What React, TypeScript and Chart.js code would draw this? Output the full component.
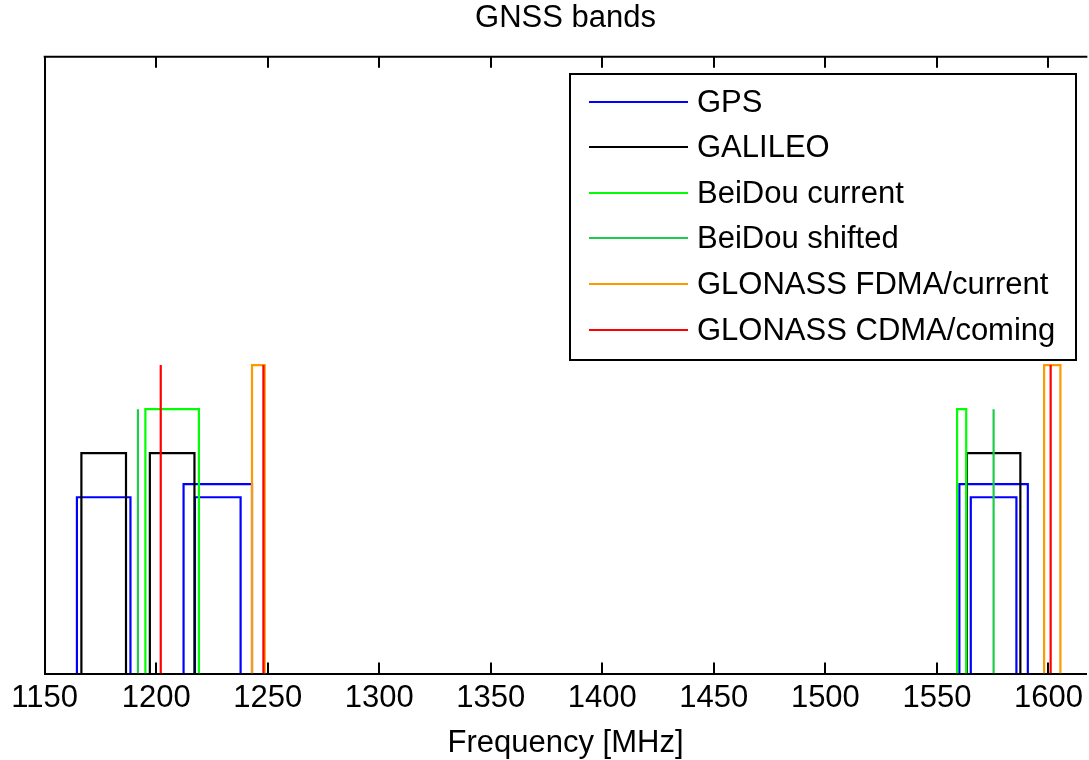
import React, { useEffect, useRef } from 'react';
import { Chart, registerables } from 'chart.js';

Chart.register(...registerables);

// ---- axis ----
const X_TICKS = [1150, 1200, 1250, 1300, 1350, 1400, 1450, 1500, 1550, 1600];
const X_MIN = 1150;
const X_MAX = 1617;
const Y_MIN = 0;
const Y_MAX = 1.4;

// ---- series labels / colours ----
const SERIES_LABELS = ['GPS', 'GALILEO', 'BeiDou current', 'BeiDou shifted', 'GLONASS FDMA/current', 'GLONASS CDMA/coming'];
const SERIES_COLORS = ['#0000ff', '#000000', '#00ff00', '#1ecc4b', '#ff9900', '#ff0000'];

// ---- GPS bands (MHz) ----
const GPS_LOW = [1164.45, 1212.255, 1217.37, 1560.075, 1565.19];
const GPS_HIGH = [1188.45, 1242.945, 1237.83, 1590.765, 1585.65];
const GPS_LEVEL = [0.4, 0.43, 0.4, 0.43, 0.4];

// ---- Galileo bands ----
const GAL_LOW = [1166.45, 1197.14, 1563.42];
const GAL_HIGH = [1186.45, 1217.14, 1587.42];
const GAL_LEVEL = [0.5, 0.5, 0.5];

// ---- BeiDou current bands ----
const BDS_LOW = [1195.14, 1559.052];
const BDS_HIGH = [1219.14, 1563.144];
const BDS_LEVEL = [0.6, 0.6];

// ---- BeiDou shifted (centre lines) ----
const BDS_SHIFT_CENTER = [1191.795, 1575.42];
const BDS_SHIFT_LEVEL = [0.6, 0.6];

// ---- GLONASS FDMA bands ----
const GLO_FDMA_LOW = [1242.9375, 1598.0625];
const GLO_FDMA_HIGH = [1248.625, 1605.375];
const GLO_FDMA_LEVEL = [0.7, 0.7];

// ---- GLONASS CDMA (centre lines) ----
const GLO_CDMA_CENTER = [1202.025, 1248.06, 1600.995];
const GLO_CDMA_LEVEL = [0.7, 0.7, 0.7];

const FONT_FAMILY = '"Liberation Sans", Arial, sans-serif';

function rectPoints(lows: number[], highs: number[], levels: number[]) {
  const pts: any[] = [];
  lows.forEach((lo, i) => {
    const hi = highs[i];
    const h = levels[i];
    pts.push({ x: lo, y: 0 }, { x: lo, y: h }, { x: hi, y: h }, { x: hi, y: 0 }, { x: hi, y: null });
  });
  return pts;
}

function linePoints(centers: number[], levels: number[]) {
  const pts: any[] = [];
  centers.forEach((c, i) => {
    pts.push({ x: c, y: 0 }, { x: c, y: levels[i] }, { x: c, y: null });
  });
  return pts;
}

const framePlugin = {
  id: 'frameTicks',
  afterDraw(chart: any) {
    const { ctx, chartArea } = chart;
    const xs = chart.scales.x;
    ctx.save();
    ctx.strokeStyle = '#000';
    ctx.lineWidth = 2;
    // top border
    ctx.beginPath();
    ctx.moveTo(chartArea.left - 1, chartArea.top);
    ctx.lineTo(chartArea.right + 1, chartArea.top);
    ctx.stroke();
    // inward ticks
    X_TICKS.forEach((v) => {
      const px = Math.round(xs.getPixelForValue(v));
      ctx.beginPath();
      ctx.moveTo(px, chartArea.bottom);
      ctx.lineTo(px, chartArea.bottom - 11);
      ctx.moveTo(px, chartArea.top);
      ctx.lineTo(px, chartArea.top + 11);
      ctx.stroke();
    });
    ctx.restore();
  },
};

const legendPlugin = {
  id: 'boxLegend',
  afterDraw(chart: any) {
    const { ctx, chartArea } = chart;
    const ds = chart.data.datasets;
    const right = Math.round(chartArea.right - 10);
    const left = right - 506;
    const top = Math.round(chartArea.top + 17);
    const bottom = top + 286;
    ctx.save();
    ctx.fillStyle = '#ffffff';
    ctx.fillRect(left, top, right - left, bottom - top);
    ctx.strokeStyle = '#000';
    ctx.lineWidth = 2;
    ctx.strokeRect(left, top, right - left, bottom - top);
    ctx.font = `31px ${FONT_FAMILY}`;
    ctx.textBaseline = 'middle';
    ctx.textAlign = 'left';
    ds.forEach((d: any, i: number) => {
      const y = Math.round(top + 27.5 + i * 45.6);
      ctx.strokeStyle = d.borderColor;
      ctx.lineWidth = 2;
      ctx.beginPath();
      ctx.moveTo(left + 19, y);
      ctx.lineTo(left + 118, y);
      ctx.stroke();
      ctx.fillStyle = '#000';
      ctx.fillText(d.label, left + 127, y + 1);
    });
    ctx.restore();
  },
};

export default function App() {
  const ref = useRef<HTMLCanvasElement | null>(null);

  useEffect(() => {
    document.body.style.margin = '0';
    document.body.style.overflow = 'hidden';
    const canvas = ref.current;
    if (!canvas) return;

    const seriesData = [
      rectPoints(GPS_LOW, GPS_HIGH, GPS_LEVEL),
      rectPoints(GAL_LOW, GAL_HIGH, GAL_LEVEL),
      rectPoints(BDS_LOW, BDS_HIGH, BDS_LEVEL),
      linePoints(BDS_SHIFT_CENTER, BDS_SHIFT_LEVEL),
      rectPoints(GLO_FDMA_LOW, GLO_FDMA_HIGH, GLO_FDMA_LEVEL),
      linePoints(GLO_CDMA_CENTER, GLO_CDMA_LEVEL),
    ];

    const chart = new Chart(canvas, {
      type: 'line',
      data: {
        datasets: seriesData.map((d, i) => ({
          label: SERIES_LABELS[i],
          data: d,
          borderColor: SERIES_COLORS[i],
          backgroundColor: SERIES_COLORS[i],
          borderWidth: 2.2,
          pointRadius: 0,
          pointHoverRadius: 0,
          tension: 0,
          fill: false,
          spanGaps: false,
          order: SERIES_LABELS.length - i,
        })),
      },
      options: {
        animation: false,
        responsive: false,
        devicePixelRatio: 1,
        events: [],
        layout: { padding: { left: 0, right: 0, top: 0, bottom: 0 } },
        plugins: {
          legend: { display: false },
          tooltip: { enabled: false },
          title: {
            display: true,
            fullSize: false,
            text: 'GNSS bands',
            color: '#000',
            font: { family: FONT_FAMILY, size: 31, weight: 'normal' as any, lineHeight: 1.2 },
            padding: { top: 0, bottom: 19.5 },
          },
        },
        scales: {
          x: {
            type: 'linear',
            position: 'bottom',
            min: X_MIN,
            max: X_MAX,
            afterBuildTicks: (s: any) => {
              s.ticks = X_TICKS.map((v) => ({ value: v }));
            },
            afterFit: (s: any) => {
              s.height = 86.5;
            },
            grid: { display: false, drawTicks: false },
            border: { display: true, color: '#000', width: 2 },
            ticks: {
              color: '#000',
              font: { family: FONT_FAMILY, size: 31 },
              padding: 6,
              maxRotation: 0,
              autoSkip: false,
              callback: (v: any) => String(v),
            },
            title: {
              display: true,
              text: 'Frequency [MHz]',
              color: '#000',
              font: { family: FONT_FAMILY, size: 31, lineHeight: 1.0 },
              padding: { top: 0, bottom: 1 },
            },
          },
          y: {
            type: 'linear',
            position: 'left',
            min: Y_MIN,
            max: Y_MAX,
            afterFit: (s: any) => {
              s.width = 44.7;
            },
            grid: { display: false, drawTicks: false },
            border: { display: true, color: '#000', width: 2 },
            ticks: { display: false },
          },
        },
      },
      plugins: [framePlugin, legendPlugin],
    });

    return () => chart.destroy();
  }, []);

  return <canvas ref={ref} width={1089} height={760} style={{ display: 'block' }} />;
}
